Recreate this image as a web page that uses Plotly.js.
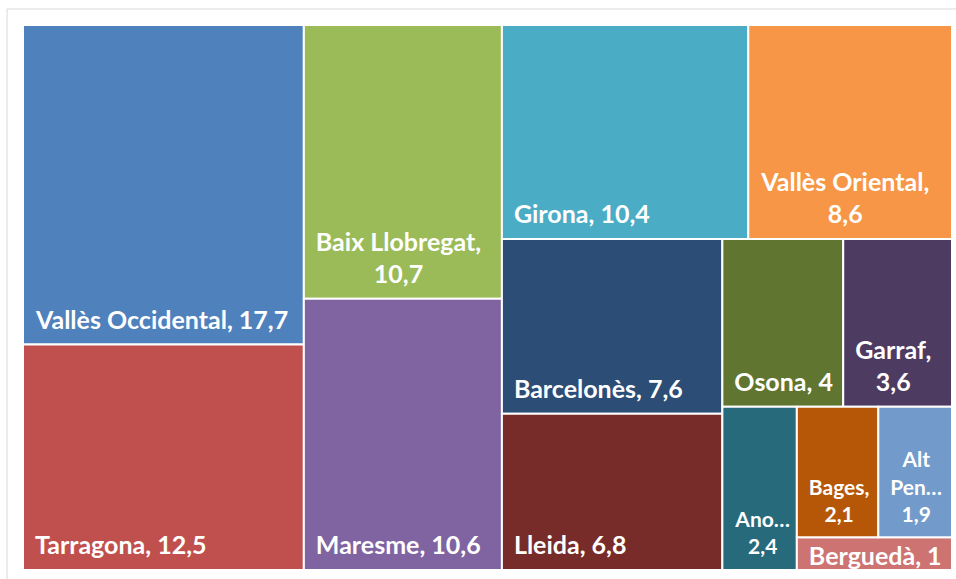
<!DOCTYPE html>
<html>
<head>
<meta charset="utf-8">
<script src="https://cdn.plot.ly/plotly-3.0.1.min.js"></script>
<style>
html, body { margin: 0; padding: 0; background: #ffffff; }
#chart { width: 956px; height: 579px; }
</style>
</head>
<body>
<div id="chart"></div>
<script>
// ---- data ----
const regions = ["Vallès Occidental", "Tarragona", "Baix Llobregat", "Maresme", "Girona",
  "Vallès Oriental", "Barcelonès", "Lleida", "Osona", "Garraf", "Anoia", "Bages",
  "Alt Penedès", "Berguedà"];
const values = [17.7, 12.5, 10.7, 10.6, 10.4, 8.6, 7.6, 6.8, 4, 3.6, 2.4, 2.1, 1.9, 1];
const tileLabels = ["Vallès Occidental, 17,7", "Tarragona, 12,5", "Baix Llobregat,<br>10,7",
  "Maresme, 10,6", "Girona, 10,4", "Vallès Oriental,<br>8,6", "Barcelonès, 7,6",
  "Lleida, 6,8", "Osona, 4", "Garraf,<br>3,6", "Ano…<br>2,4", "Bages,<br>2,1",
  "Alt<br>Pen…<br>1,9", "Berguedà, 1"];

// ---- tiling structure (invisible groups that reproduce the reference's layout) ----
const groupIds     = ["A", "B", "C", "C1", "C2", "C2a", "C2b", "C2b1", "C2b2", "C2b2x", "C2b2x1"];
const groupParents = ["",  "",  "",  "C",  "C",  "C2",  "C2",  "C2b",  "C2b",  "C2b2",  "C2b2x"];
const leafParents  = ["A", "A", "B", "B", "C1", "C1", "C2a", "C2a", "C2b1", "C2b1", "C2b2",
  "C2b2x1", "C2b2x1", "C2b2x"];

// ---- styles ----
const colors = ["#4F81BD", "#C0504D", "#9BBB59", "#8064A2", "#4BACC6", "#F79646", "#2C4D75",
  "#772C2A", "#5F7530", "#4D3B62", "#276A7C", "#B65708", "#729ACA", "#CD7371"];
const labelSizes = [25, 25, 25, 25, 25, 25, 25, 25, 25, 25, 21, 21, 21, 25];

function minLeaf(id) {
  let m = Infinity;
  leafParents.forEach((p, i) => { if (p === id) m = Math.min(m, i); });
  groupIds.forEach((g, j) => { if (groupParents[j] === id) m = Math.min(m, minLeaf(g)); });
  return m;
}

const ids = [], parents = [], labels = [], vals = [], texts = [], cols = [], sizes = [], lws = [];
function visit(pid) {
  const kids = [];
  groupIds.forEach((g, j) => { if (groupParents[j] === pid) kids.push({ g: j, key: minLeaf(g) }); });
  leafParents.forEach((p, i) => { if (p === pid) kids.push({ l: i, key: i }); });
  kids.sort((a, b) => a.key - b.key);
  kids.forEach(k => {
    if (k.g !== undefined) {
      const id = groupIds[k.g];
      ids.push(id); parents.push(pid); labels.push(id); vals.push(0); texts.push("");
      cols.push("#ffffff"); sizes.push(12); lws.push(0);
      visit(id);
    } else {
      const i = k.l;
      ids.push(regions[i]); parents.push(pid); labels.push(regions[i]); vals.push(values[i]);
      texts.push(tileLabels[i]); cols.push(colors[i]); sizes.push(labelSizes[i]); lws.push(2);
    }
  });
}
visit("");

const trace = {
  type: "treemap",
  ids: ids, labels: labels, parents: parents, values: vals,
  branchvalues: "remainder",
  sort: false,
  tiling: { packing: "slice-dice", pad: 0 },
  marker: {
    colors: cols,
    line: { color: "#ffffff", width: lws },
    pad: { t: 0, l: 0, r: 0, b: 0 },
    depthfade: false
  },
  leaf: { opacity: 1 },
  text: texts,
  textinfo: "text",
  textposition: "bottom left",
  textfont: { family: "Lato, Carlito, Calibri, sans-serif", size: sizes, color: "#ffffff", weight: 700 },
  pathbar: { visible: false },
  hoverinfo: "label+value"
};

const layout = {
  width: 956, height: 579,
  margin: { l: 23, r: 4, t: 25, b: 9, pad: 0 },
  paper_bgcolor: "#ffffff",
  showlegend: false,
  shapes: [{
    type: "rect", xref: "paper", yref: "paper",
    x0: -0.0172, x1: 1.01, y0: -0.03, y1: 1.0294,
    line: { color: "#d9d9d9", width: 1 }, fillcolor: "rgba(0,0,0,0)", layer: "below"
  }]
};

Plotly.newPlot("chart", [trace], layout, { displayModeBar: false, responsive: false }).then(() => {
  // Excel-style label placement: block padded from the tile's lower-left corner,
  // lines centred on each other, no shrinking unless wider than the tile.
  document.querySelectorAll("#chart text.slicetext").forEach(t => {
    if (!t.textContent.trim()) return;
    const slice = t.closest("g.slice");
    const path = slice && slice.querySelector("path.surface");
    if (!path) return;
    const r = path.getBBox();
    const lines = t.querySelectorAll("tspan.line");
    t.removeAttribute("transform");
    if (lines.length > 1) {
      const bb0 = t.getBBox();
      t.setAttribute("text-anchor", "middle");
      lines.forEach(s => s.setAttribute("x", bb0.x + bb0.width / 2));
    }
    const bb = t.getBBox();
    const fs = parseFloat(t.style.fontSize) || 25;
    const padL = 12;
    const availW = r.width - padL - 4;
    const s = bb.width > availW ? availW / bb.width : 1;
    const lastBaselineFromBottom = 0.213 * fs; // bbox bottom sits one descent below the last baseline
    let ty;
    const blockH = bb.height * s;
    if (blockH + 8 > r.height) {
      ty = r.y + r.height / 2 - (bb.y + bb.height / 2) * s + 1;
    } else {
      ty = r.y + r.height - 16 + lastBaselineFromBottom * s - (bb.y + bb.height) * s;
    }
    const tx = r.x + padL - bb.x * s;
    t.setAttribute("transform", "translate(" + tx + "," + ty + ") scale(" + s + ")");
  });
});
</script>
</body>
</html>
